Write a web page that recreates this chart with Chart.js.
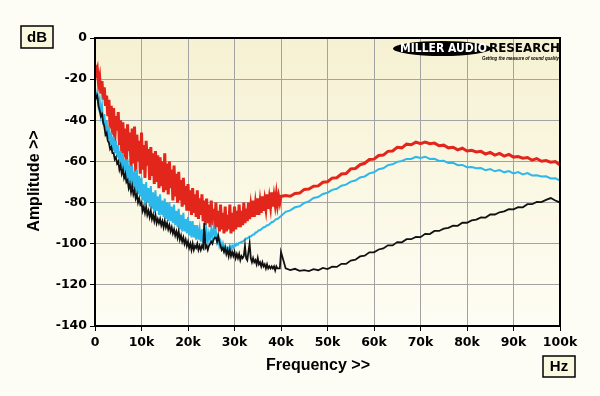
<!DOCTYPE html>
<html>
<head>
<meta charset="utf-8">
<script src="https://cdn.jsdelivr.net/npm/chart.js@4.4.1/dist/chart.umd.min.js"></script>
<style>
  html, body { margin: 0; padding: 0; background: #fdfdf6; }
  #wrap { width: 600px; height: 396px; position: relative; }
</style>
</head>
<body>
<div id="wrap"><canvas id="spectre" width="600" height="396"></canvas></div>
<script>
// frequences en kHz : pas de 0.25k jusqu'a 40k, puis 1k
const freqKHz = [
  0,0.25,0.5,0.75, 1,1.25,1.5,1.75, 2,2.25,2.5,2.75, 3,3.25,3.5,3.75, 4,4.25,4.5,4.75,
  5,5.25,5.5,5.75, 6,6.25,6.5,6.75, 7,7.25,7.5,7.75, 8,8.25,8.5,8.75, 9,9.25,9.5,9.75,
  10,10.25,10.5,10.75, 11,11.25,11.5,11.75, 12,12.25,12.5,12.75, 13,13.25,13.5,13.75, 14,14.25,14.5,14.75,
  15,15.25,15.5,15.75, 16,16.25,16.5,16.75, 17,17.25,17.5,17.75, 18,18.25,18.5,18.75, 19,19.25,19.5,19.75,
  20,20.25,20.5,20.75, 21,21.25,21.5,21.75, 22,22.25,22.5,22.75, 23,23.25,23.5,23.75, 24,24.25,24.5,24.75,
  25,25.25,25.5,25.75, 26,26.25,26.5,26.75, 27,27.25,27.5,27.75, 28,28.25,28.5,28.75, 29,29.25,29.5,29.75,
  30,30.25,30.5,30.75, 31,31.25,31.5,31.75, 32,32.25,32.5,32.75, 33,33.25,33.5,33.75, 34,34.25,34.5,34.75,
  35,35.25,35.5,35.75, 36,36.25,36.5,36.75, 37,37.25,37.5,37.75, 38,38.25,38.5,38.75, 39,39.25,39.5,39.75,
  40,41,42,43,44,45,46,47,48,49,50,51,52,53,54,55,56,57,58,59,
  60,61,62,63,64,65,66,67,68,69,70,71,72,73,74,75,76,77,78,79,
  80,81,82,83,84,85,86,87,88,89,90,91,92,93,94,95,96,97,98,99,100
];

// trace rouge (dB)
const redDb = [
  -13,-17,-15,-22, -19,-27,-21,-30, -24,-33,-28,-38, -30,-44,-33,-47, -34,-50,-38,-45,
  -36,-52,-40,-56, -41,-58,-44,-62, -42,-55,-46,-63, -44,-61,-43,-65, -47,-60,-50,-66,
  -46,-64,-52,-68, -50,-62,-54,-69, -53,-67,-56,-71, -55,-70,-57,-73, -58,-72,-60,-75,
  -56,-74,-61,-76, -60,-73,-64,-79, -62,-77,-66,-80, -65,-79,-69,-82, -68,-81,-72,-84,
  -71,-84,-74,-86, -73,-85,-76,-87, -74,-88,-78,-86, -76,-89,-79,-91, -78,-90,-81,-92,
  -79,-91,-83,-93, -80,-92,-84,-94, -81,-93,-85,-95, -82,-94,-86,-93, -81,-95,-85,-94,
  -82,-93,-84,-92, -81,-92,-84,-91, -80,-90,-83,-89, -80,-88,-82,-87, -79,-87,-81,-86,
  -78,-86,-80,-85, -77,-84,-79,-83, -76,-83,-78,-82, -75,-82,-77,-81, -76,-81,-77,-80,
  -77,-76.6,-76.9,-75.6,-75.4,-73.6,-73.4,-72.1,-71.9,-70.1,-69.9,-68.1,-67.9,-66.1,-65.9,-63.6,-63.4,-61.6,-60.9,-59.1,
  -58.9,-57.1,-56.9,-55.1,-54.9,-53.1,-53.4,-51.6,-51.9,-50.6,-51.4,-50.6,-51.4,-51.1,-52.4,-52.1,-53.4,-53.1,-54.4,-53.6,
  -54.9,-54.6,-55.4,-55.1,-56.4,-55.6,-56.9,-56.1,-57.4,-56.6,-57.9,-57.6,-58.4,-58.1,-59.4,-58.6,-59.9,-59.6,-60.4,-60.1,-61.8
];

// trace cyan (dB)
const cyanDb = [
  -24,-29,-27,-33, -30,-37,-33,-42, -37,-45,-40,-49, -43,-52,-46,-55, -48,-56,-50,-58,
  -52,-61,-55,-63, -56,-65,-59,-68, -59,-70,-62,-72, -62,-73,-65,-75, -64,-76,-67,-77,
  -68,-79,-71,-81, -70,-80,-73,-82, -72,-83,-75,-85, -74,-84,-77,-86, -76,-86,-79,-87,
  -78,-88,-80,-89, -80,-89,-82,-90, -81,-91,-84,-92, -83,-93,-86,-94, -85,-94,-88,-95,
  -87,-96,-89,-97, -89,-97,-91,-98, -91,-98,-93,-99, -93,-99,-94,-100, -94,-99,-95,-98,
  -93,-97,-92,-96, -94,-99,-97,-101, -99,-102,-100,-103, -101,-103,-102,-103, -101,-102.5,-101,-102,
  -100.5,-101,-100,-100.5, -99.5,-99.5,-99,-99, -98.5,-98,-97.5,-97.5, -97,-96.5,-96.5,-96, -95.5,-95.5,-94.5,-94.5,
  -94,-93.5,-93.5,-93, -92.5,-92,-92,-91.5, -91,-91,-90.5,-90, -89.5,-89.5,-89,-88.5, -88,-88,-87.5,-87,
  -86.5,-84.5,-83.8,-82.3,-81.8,-80.2,-79.4,-77.8,-77.3,-75.8,-75.2,-73.8,-73.3,-71.8,-71.3,-69.8,-69.3,-67.8,-67.3,-65.8,
  -65.3,-63.8,-63.3,-61.8,-61.4,-60.2,-59.8,-58.8,-58.8,-57.8,-58.3,-57.7,-58.8,-58.7,-59.8,-59.7,-60.8,-60.7,-61.8,-61.7,
  -62.8,-62.7,-63.3,-63.2,-64.3,-63.7,-64.8,-64.2,-65.3,-64.7,-65.8,-65.2,-66.3,-65.7,-66.8,-66.7,-67.3,-67.2,-68.3,-68.2,-69.3
];

// trace noire (dB)
const blackDb = [
  -26,-29,-28,-33, -35,-38,-37,-41, -43,-47,-46,-50, -51,-54,-53,-56, -56,-59,-58,-61,
  -60,-64,-62,-66, -64,-68,-66,-70, -69,-73,-71,-75, -72,-76,-74,-78, -76,-80,-78,-81,
  -80,-84,-82,-85, -82,-86,-84,-87, -84,-88,-86,-89, -86,-90,-88,-90, -88,-91,-89,-92,
  -89,-92,-90,-93, -91,-94,-92,-95, -93,-96,-94,-97, -94,-98,-96,-99, -97,-100,-98,-101,
  -99,-102,-100,-103, -100,-103,-101,-102, -100,-103,-101,-103, -101,-102,-90,-102, -101,-103,-101,-100,
  -99,-100,-98,-97, -97,-99,-96,-99, -101,-103,-102,-104, -102,-105,-103,-106, -103,-106,-104,-106,
  -104,-107,-105,-107, -105,-108,-106,-107, -106,-101,-107,-108, -104,-100,-107,-109, -107,-109,-108,-110,
  -107,-110,-109,-111, -109,-111,-110,-112, -110,-112,-111,-112, -111,-112,-111,-113, -111,-112,-112,-112,
  -104,-112,-112.8,-112.2,-113.2,-112.8,-113.3,-112.4,-112.9,-111.8,-112.3,-111.2,-111.3,-109.8,-109.8,-108.2,-107.8,-106.2,-105.8,-104.2,
  -104.2,-102.8,-102.3,-100.8,-100.8,-99.2,-99.3,-97.8,-97.8,-96.7,-96.8,-95.2,-95.3,-93.8,-93.8,-92.7,-92.3,-91.2,-91.3,-89.8,
  -89.8,-88.7,-88.3,-87.2,-87.3,-85.8,-85.8,-84.7,-84.3,-83.2,-83.3,-82.2,-82.3,-80.8,-80.8,-79.7,-79.8,-78.7,-77.8,-79,-80
];

const yTicks = [0, -20, -40, -60, -80, -100, -120, -140];
const xTicks = [0, 10, 20, 30, 40, 50, 60, 70, 80, 90, 100];

function points(values) {
    return freqKHz.map((f, i) => ({ x: f, y: values[i] }));
}

const police = "'Liberation Sans', Arial, sans-serif";
const policeTicks = "'DejaVu Sans', Verdana, sans-serif";

// fond degrade de la zone de trace
const fondPlugin = {
    id: 'fond',
    beforeDraw(chart) {
        const a = chart.chartArea;
        const ctx = chart.ctx;
        const g = ctx.createLinearGradient(0, a.top, 0, a.bottom);
        g.addColorStop(0, '#f6f1d2');
        g.addColorStop(1, '#fefdf4');
        ctx.save();
        ctx.fillStyle = g;
        ctx.fillRect(a.left, a.top, a.right - a.left, a.bottom - a.top);
        ctx.restore();
    }
};

// cadre, titres, boites et logo
const decorPlugin = {
    id: 'decor',
    afterDraw(chart) {
        const a = chart.chartArea;
        const ctx = chart.ctx;
        ctx.save();
        ctx.strokeStyle = '#000';
        ctx.lineWidth = 2;
        ctx.strokeRect(a.left, a.top, a.right - a.left, a.bottom - a.top);

        // boites dB et Hz
        ctx.lineWidth = 1.5;
        ctx.fillStyle = '#fbf8e0';
        ctx.fillRect(21, 26, 32, 22);
        ctx.strokeRect(21, 26, 32, 22);
        ctx.fillRect(543, 356, 32, 21);
        ctx.strokeRect(543, 356, 32, 21);
        ctx.fillStyle = '#000';
        ctx.font = 'bold 15px ' + police;
        ctx.textAlign = 'center';
        ctx.textBaseline = 'middle';
        ctx.fillText('dB', 37, 37.5);
        ctx.fillText('Hz', 559, 367);

        // titres des axes
        ctx.font = 'bold 16px ' + police;
        ctx.fillText('Frequency >>', 318, 366);
        ctx.save();
        ctx.translate(35, 181);
        ctx.rotate(-Math.PI / 2);
        ctx.fillText('Amplitude >>', 0, 0);
        ctx.restore();

        // logo
        ctx.beginPath();
        ctx.ellipse(442, 48.5, 49, 7.5, 0, 0, Math.PI * 2);
        ctx.fillStyle = '#000';
        ctx.fill();
        ctx.fillStyle = '#fff';
        ctx.font = 'bold 12px ' + policeTicks;
        ctx.textAlign = 'left';
        ctx.fillText('MILLER AUDIO', 400, 49, 87);
        ctx.fillStyle = '#000';
        ctx.font = 'bold 13px ' + policeTicks;
        ctx.fillText('RESEARCH', 489, 49, 71);
        ctx.font = 'italic bold 5px ' + police;
        ctx.fillText('Getting the measure of sound quality', 482, 58.5, 77);
        ctx.restore();
    }
};

var ctx = document.getElementById('spectre').getContext('2d');

var data = {
    datasets: [
        { label: 'rouge', data: points(redDb), borderColor: '#e3261b', borderWidth: 3, order: 3 },
        { label: 'cyan', data: points(cyanDb), borderColor: '#2cb8ea', borderWidth: 2, order: 2 },
        { label: 'noir', data: points(blackDb), borderColor: '#111111', borderWidth: 1.8, order: 1 }
    ]
};

var options = {
    responsive: false,
    animation: false,
    layout: { padding: { top: 38, right: 40, left: 0, bottom: 0 } },
    elements: { point: { radius: 0 }, line: { tension: 0 } },
    plugins: { legend: { display: false }, tooltip: { enabled: false } },
    scales: {
        x: {
            type: 'linear',
            min: 0,
            max: 100,
            afterBuildTicks: s => { s.ticks = xTicks.map(v => ({ value: v })); },
            afterFit: s => { s.height = 70; },
            ticks: {
                color: '#000',
                font: { family: policeTicks, size: 12.5, weight: 'bold' },
                padding: 4,
                maxRotation: 0,
                callback: v => v === 0 ? '0' : v + 'k'
            },
            grid: { color: '#a3a3a3', lineWidth: 1, tickColor: '#000', tickLength: 5 },
            border: { color: '#000', width: 2 }
        },
        y: {
            min: -140,
            max: 0,
            afterBuildTicks: s => { s.ticks = yTicks.map(v => ({ value: v })); },
            afterFit: s => { s.width = 95; },
            ticks: {
                color: '#000',
                font: { family: policeTicks, size: 12.5, weight: 'bold' },
                padding: 3,
                callback: v => String(v)
            },
            grid: { color: '#a3a3a3', lineWidth: 1, tickColor: '#000', tickLength: 5 },
            border: { color: '#000', width: 2 }
        }
    }
};

var config = {
    type: 'line',
    data: data,
    options: options,
    plugins: [fondPlugin, decorPlugin]
};

var graph1 = new Chart(ctx, config);
</script>
</body>
</html>
